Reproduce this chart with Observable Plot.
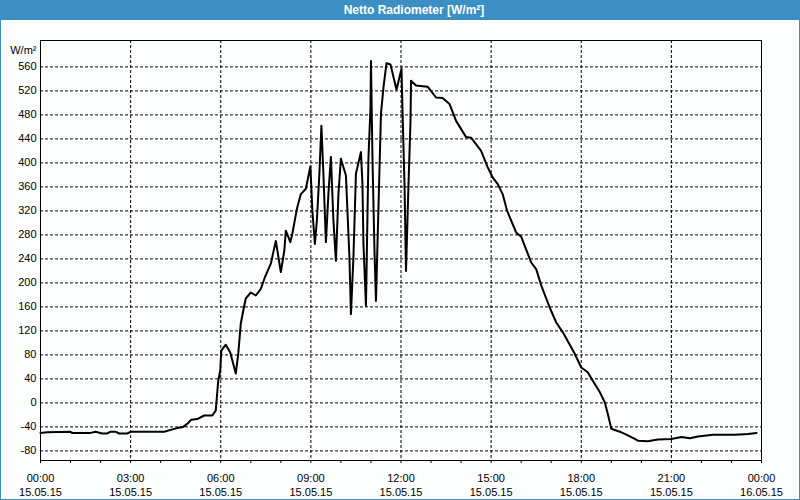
<!DOCTYPE html>
<html>
<head>
<meta charset="utf-8">
<script src="https://cdn.jsdelivr.net/npm/d3@7"></script>
<script src="https://cdn.jsdelivr.net/npm/@observablehq/plot@0.6"></script>
<style>
  html, body { margin: 0; padding: 0; background: #fcfdfd; }
  #box { position: relative; width: 800px; height: 500px; box-sizing: border-box;
         border: 1px solid #3c8fc2; border-top: none; background: #fcfdfd; overflow: hidden; }
  #title { position: absolute; left: -1px; top: 0; width: 800px; height: 20px; background: #3c8fc2;
           color: #fff; font: bold 12px "Liberation Sans", Arial, sans-serif; line-height: 20px;
           text-align: center; box-sizing: border-box; padding-left: 28px; }
  #chart { position: absolute; left: 0; top: 20px; }
  svg { background: transparent !important; }
</style>
</head>
<body>
<div id="box">
  <div id="title">Netto Radiometer [W/m²]</div>
  <div id="chart"></div>
</div>
<script>
const times = ["00:00","00:13","01:00","01:03","01:40","01:50","02:03","02:13","02:20","02:30",
  "02:37","02:53","03:01","04:07","04:20","04:33","04:45","04:53","05:01","05:13",
  "05:27","05:43","05:50","05:55","05:59","06:01","06:10","06:19","06:25","06:30",
  "06:35","06:40","06:45","06:50","07:00","07:10","07:20","07:28","07:40","07:50",
  "08:00","08:07","08:10","08:19","08:23","08:32","08:40","08:50","08:59","09:03",
  "09:08","09:12","09:17","09:21","09:25","09:30","09:35","09:40","09:45","09:50",
  "09:55","10:00","10:10","10:17","10:20","10:25","10:30","10:40","10:43","10:45",
  "10:50","10:55","10:59","11:00","11:03","11:07","11:10","11:15","11:20","11:25",
  "11:31","11:39","11:51","12:01","12:03","12:07","12:10","12:15","12:19","12:20",
  "12:30","12:53","13:10","13:23","13:37","13:50","14:10","14:20","14:40","14:53",
  "15:03","15:13","15:23","15:32","15:50","16:00","16:20","16:30","16:40","16:57",
  "17:10","17:23","17:47","18:00","18:13","18:23","18:37","18:47","18:53","19:00",
  "19:17","19:30","19:47","19:53","20:13","20:33","21:00","21:20","21:37","21:53",
  "22:23","23:07","23:33","23:50"];
const values = [-50,-49,-48,-50,-50,-48,-51,-51,-48,-48,
  -51,-51,-48,-48,-45,-42,-40,-35,-28,-27,
  -21,-21,-13,37,54,87,97,84,65,49,
  82,132,154,174,184,179,190,209,232,270,
  218,254,287,268,282,323,348,357,394,320,
  265,304,382,462,382,268,348,410,304,237,
  348,407,379,243,148,243,382,418,365,265,
  162,409,490,570,409,254,170,326,482,526,
  566,564,522,557,487,365,220,365,470,537,
  529,527,509,508,498,470,443,442,420,393,
  376,365,348,320,284,277,234,223,196,159,
  134,118,82,59,51,37,18,1,-18,-43,
  -48,-53,-60,-63,-64,-61,-60,-57,-59,-56,
  -53,-53,-52,-50];
const yTicks = [-80,-40,0,40,80,120,160,200,240,280,320,360,400,440,480,520,560];
const xLabelHours = [0,3,6,9,12,15,18,21,24];
const gridHours = [3,6,9,12,15,18,21];
const minorHours = d3.range(0, 25);
const unitLabel = "W/m²";

const toDate = (h, m = 0) => new Date(Date.UTC(2015, 4, 15, h, m));
const data = times.map((t, i) => {
  const [h, m] = t.split(":").map(Number);
  return {time: toDate(h, m), value: values[i]};
});
const pad = n => String(n).padStart(2, "0");
const fmt = d => `${pad(d.getUTCHours())}:${pad(d.getUTCMinutes())}\n${pad(d.getUTCDate())}.${pad(d.getUTCMonth()+1)}.${String(d.getUTCFullYear()).slice(2)}`;

const chart = Plot.plot({
  width: 798,
  height: 479,
  marginLeft: 39,
  marginRight: 38,
  marginTop: 20,
  marginBottom: 39,
  style: {fontFamily: "'Liberation Sans', Arial, sans-serif", fontSize: "11px", color: "black", background: "transparent"},
  x: {type: "utc", domain: [toDate(0), toDate(24)], axis: null, label: null},
  y: {domain: [-96, 604], axis: null, label: null},
  marks: [
    Plot.ruleY(yTicks, {stroke: "black", strokeDasharray: "3,2", strokeWidth: 1, strokeOpacity: 1}),
    Plot.ruleX(gridHours.map(h => toDate(h)), {stroke: "black", strokeDasharray: "3,2", strokeWidth: 1, strokeOpacity: 1}),
    Plot.frame({stroke: "black", strokeWidth: 1}),
    Plot.axisY(yTicks, {tickSize: 0, tickPadding: 4, fontSize: 11, label: null, tickFormat: d => String(d)}),
    Plot.axisX(minorHours.map(h => toDate(h)), {tickSize: 3, label: null, tickFormat: () => "", strokeOpacity: 1}),
    Plot.axisX(xLabelHours.map(h => toDate(h)), {tickSize: 0, tickPadding: 12, fontSize: 11, label: null, lineHeight: 1.27, tickFormat: fmt}),
    Plot.text([unitLabel], {frameAnchor: "top-left", textAnchor: "end", dx: -4, dy: 6, fontSize: 11}),
    Plot.line(data, {x: "time", y: "value", stroke: "black", strokeWidth: 2})
  ]
});
document.getElementById("chart").appendChild(chart);
</script>
</body>
</html>
